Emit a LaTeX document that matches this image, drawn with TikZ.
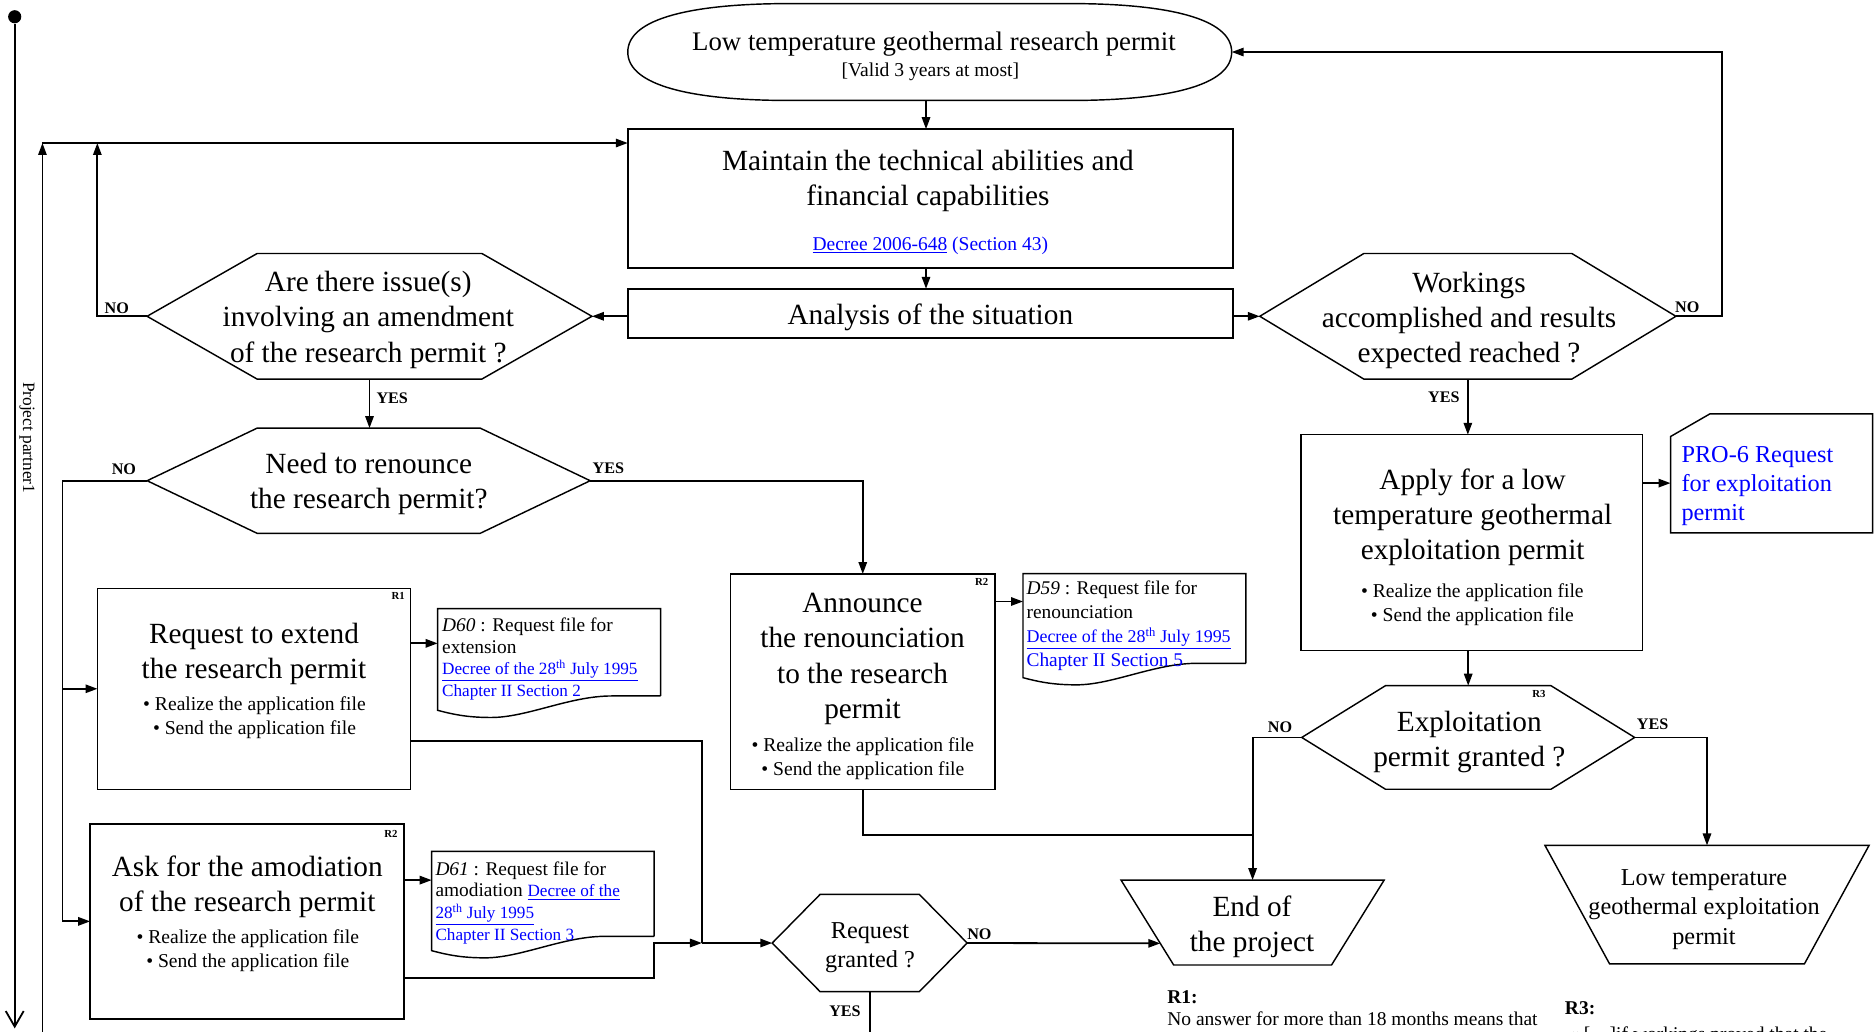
\documentclass[tikz,border=0pt]{standalone}
\usepackage{fontspec}
\setmainfont{Liberation Serif}
\usetikzlibrary{arrows.meta,calc}
\definecolor{linkblue}{RGB}{0,0,255}

% outline helpers, drawn from the anchors of an invisible rectangle node
\newcommand\drawhex[2]{%
  \draw[outline] (#1.west) -- ([xshift=#2pt]#1.north west) -- ([xshift=-#2pt]#1.north east)
    -- (#1.east) -- ([xshift=-#2pt]#1.south east) -- ([xshift=#2pt]#1.south west) -- cycle;}
\newcommand\drawtrap[2]{%
  \draw[outline] (#1.north west) -- (#1.north east) -- ([xshift=-#2pt]#1.south east)
    -- ([xshift=#2pt]#1.south west) -- cycle;}
\newcommand\drawdoc[1]{%
  \draw[outline] (#1.south east) -- (#1.north east) -- (#1.north west) -- ([yshift=-12pt]#1.south west)
    .. controls +(15,4) and +(-18,0) .. ($(#1.south west)!0.24!(#1.south east)+(0,18)$)
    .. controls +(30,0) and +(-35,0) .. ($(#1.south west)!0.78!(#1.south east)$) -- (#1.south east);}
% reference links inside the document shapes
\newcommand\reflink[1]{\fontsize{14.35}{18.2}\selectfont\color{linkblue}#1}

\tikzset{
  conn/.style={line width=1.5pt},
  arr/.style={conn,-{Triangle[length=10pt,width=7pt]}},
  outline/.style={line width=1.2pt},
  area/.style 2 args={minimum width=#1pt,minimum height=#2pt,inner sep=0pt,outer sep=0pt},
  boxed/.style 2 args={area={#1}{#2},draw,outline},
  big/.style={font=\fontsize{24.5}{29.5}\selectfont,align=center,inner sep=0pt},
  mid/.style={font=\fontsize{20.3}{24.5}\selectfont,align=center,inner sep=0pt},
  small/.style={font=\fontsize{16.4}{20}\selectfont,align=center,inner sep=0pt},
  doctext/.style={font=\fontsize{16.2}{18.2}\selectfont,align=left,anchor=west,inner sep=0pt},
  yn/.style={font=\bfseries\fontsize{13.5}{14}\selectfont,inner sep=0pt},
  rtag/.style={font=\bfseries\fontsize{9}{10}\selectfont,inner sep=0pt},
  note/.style={font=\fontsize{16.3}{18}\selectfont,anchor=base west,inner sep=0pt},
}

\begin{document}
\begin{tikzpicture}[x=1pt,y=-1pt]
\useasboundingbox (0,0) rectangle (1568,863);
\clip (0,0) rectangle (1568,863);

% ---- swimlane of the project partner
\node[circle,fill,inner sep=0pt,minimum size=11pt] (start) at (12.3,14) {};
\coordinate (laneEnd) at (12.3,860);
\draw[conn,-{Straight Barb[length=13pt,width=15pt]}] (start) -- (laneEnd);
\node[rotate=-90,font=\fontsize{14.5}{16}\selectfont,inner sep=0pt] (lane) at (22.5,366) {Project partner1};

% ---- research permit (start)
\node[area={505}{81}] (permit) at (777.5,43.5) {};
\draw[outline] (permit.west)
  .. controls ([yshift=28.5pt]permit.west) and ([xshift=55pt]permit.north west) .. ([xshift=135pt]permit.north west)
  -- ([xshift=-135pt]permit.north east)
  .. controls ([xshift=-55pt]permit.north east) and ([yshift=28.5pt]permit.east) .. (permit.east)
  .. controls ([yshift=-28.5pt]permit.east) and ([xshift=-55pt]permit.south east) .. ([xshift=-135pt]permit.south east)
  -- ([xshift=135pt]permit.south west)
  .. controls ([xshift=55pt]permit.south west) and ([yshift=-28.5pt]permit.west) .. (permit.west) -- cycle;
\node[font=\fontsize{22.4}{26}\selectfont,inner sep=0pt] (permitT) at (781,37) {Low temperature geothermal research permit};
\node[font=\fontsize{16.4}{19}\selectfont,inner sep=0pt] (permitS) at (778,60) {[Valid 3 years at most]};

% ---- maintain / analysis
\node[boxed={506}{116}] (maint) at (778,166) {};
\node[big] (maintT) at (776,151.5) {Maintain the technical abilities and\\financial capabilities};
\node[font=\fontsize{16.3}{19}\selectfont,text=linkblue,inner sep=0pt] (maintL) at (778,205.5) {\underline{Decree 2006-648} (Section 43)};
\node[boxed={506}{41}] (analysis) at (778,262) {};
\node[big] (analysisT) at (778,265) {Analysis of the situation};

% ---- decisions
\node[area={372}{105}] (q1) at (309,264.5) {}; \drawhex{q1}{92}
\node[big] (q1T) at (308,267.5) {Are there issue(s)\\involving an amendment\\of the research permit ?};

\node[area={348}{105}] (q2) at (1227.5,264.5) {}; \drawhex{q2}{87}
\node[big] (q2T) at (1228.5,268) {Workings\\accomplished and results\\expected reached ?};

\node[area={370.5}{88}] (q3) at (308.3,402) {}; \drawhex{q3}{92}
\node[big] (q3T) at (308.4,405) {Need to renounce\\the research permit?};

\node[area={163}{81.3}] (q4) at (727.3,788.6) {}; \drawhex{q4}{40}
\node[mid] (q4T) at (727.5,792.5) {Request\\granted ?};

\node[area={278.4}{86.6}] (q5) at (1227.8,616.7) {}; \drawhex{q5}{70}
\node[big] (q5T) at (1228.7,620.5) {Exploitation\\permit granted ?};
\node[rtag] (q5R) at (1287,580) {R3};

% ---- actions
\node[boxed={262}{168}] (req) at (212.5,576) {};
\node[big] (reqT) at (212.4,547) {Request to extend\\the research permit};
\node[small] (reqB) at (212.8,600.5) {\textbullet\ Realize the application file\\\textbullet\ Send the application file};
\node[rtag] (reqR) at (333,498) {R1};

\node[boxed={262.4}{163}] (ask) at (206.6,770.5) {};
\node[big] (askT) at (206.8,741.5) {Ask for the amodiation\\of the research permit};
\node[small] (askB) at (207.2,795) {\textbullet\ Realize the application file\\\textbullet\ Send the application file};
\node[rtag] (askR) at (327,697) {R2};

\node[boxed={221}{180}] (ann) at (721.5,570) {};
\node[big] (annT) at (721.3,551) {Announce\\the renounciation\\to the research\\permit};
\node[small] (annB) at (721.6,634.5) {\textbullet\ Realize the application file\\\textbullet\ Send the application file};
\node[rtag] (annR) at (821,487) {R2};

\node[boxed={285.6}{180.5}] (apply) at (1230.8,453.8) {};
\node[big] (applyT) at (1231.5,432.5) {Apply for a low\\temperature geothermal\\exploitation permit};
\node[small] (applyB) at (1231.3,505.5) {\textbullet\ Realize the application file\\\textbullet\ Send the application file};

% ---- procedure card
\node[area={169}{99.5}] (pro) at (1481.5,395.8) {};
\draw[outline] ([yshift=-19pt]pro.north west) -- ([xshift=33pt]pro.north west) -- (pro.north east)
  -- (pro.south east) -- (pro.south west) -- cycle;
\node[mid,align=left,anchor=west,text=linkblue] (proT) at (1406,406.5) {PRO-6 Request\\for exploitation\\permit};

% ---- documents
\node[area={186.5}{73}] (d60) at (459.25,545.5) {}; \drawdoc{d60}
\node[doctext] (d60T) at (369.6,551) {\textit{D60} : Request file for\\extension\\{\reflink{\underline{Decree of the 28\textsuperscript{th} July 1995}}}\\{\reflink{Chapter II Section 2}}};

\node[area={186.3}{75}] (d59) at (948.65,517.2) {}; \drawdoc{d59}
\node[doctext,font=\fontsize{16.2}{20}\selectfont] (d59T) at (858.3,523.5) {\textit{D59} : Request file for\\renounciation\\{\fontsize{15}{20}\selectfont\color{linkblue}\underline{Decree of the 28\textsuperscript{th} July 1995}}\\{\color{linkblue}Chapter II Section 5}};

\node[area={186}{71}] (d61) at (454,747.5) {}; \drawdoc{d61}
\node[doctext] (d61T) at (364,755) {\textit{D61} : Request file for\\amodiation {\reflink{\underline{Decree of the}}}\\{\reflink{\underline{28\textsuperscript{th} July 1995}}}\\{\reflink{Chapter II Section 3}}};

% ---- outcomes
\node[area={220}{71}] (finish) at (1047.5,771.5) {}; \drawtrap{finish}{44}
\node[big] (finishT) at (1047,775) {End of\\the project};
\node[area={271}{99}] (lowp) at (1427.5,756.5) {}; \drawtrap{lowp}{54}
\node[mid] (lowpT) at (1425,760.5) {Low temperature\\geothermal exploitation\\permit};

% ---- notes
\node[note,font=\bfseries\fontsize{16.3}{18}\selectfont] (n1h) at (976,839.5) {R1:};
\node[note] (n1) at (976,857.5) {No answer for more than 18 months means that};
\node[note,font=\bfseries\fontsize{16.3}{18}\selectfont] (n3h) at (1308.5,848) {R3:};
\node[note] (n3) at (1312,870) {« […]if workings proved that the};

% ---- connectors
\coordinate (midcol) at (774.4,0);
\draw[arr] (permit.south -| midcol) -- (maint.north -| midcol);
\draw[arr] (maint.south -| midcol) -- (analysis.north -| midcol);
\draw[arr] (analysis.west |- q1.east) -- (q1.east);
\draw[arr] (analysis.east |- q2.west) -- (q2.west);

\coordinate (loopTop) at (35.5,119.6);
\coordinate (loopFoot) at (35.5,875);
\draw[arr] (loopFoot) -- (loopTop);
\draw[arr] (loopTop) -- (maint.west |- loopTop);
\coordinate (noUp) at (81.4,119.6);
\draw[arr] (q1.west) -| (noUp);
\draw[arr] (q1.south) -- (q1.south |- q3.north);

\coordinate (backRight) at (1440,264.5);
\draw[arr] (q2.east) -- (backRight) |- (permit.east);
\draw[arr] (q2.south) -- (q2.south |- apply.north);

\coordinate (spine) at (52.3,0);
\draw[arr] (q3.west) -| (spine |- ask.west) -- (ask.west);
\draw[arr] (spine |- req.west) -- (req.west);
\draw[arr] (q3.east) -| (ann.north);

\draw[arr] (req.east |- 0,538) -- (d60.west |- 0,538);
\coordinate (merge) at (587,788.6);
\draw[conn] (req.east |- 0,619.5) -| (merge);
\draw[arr] (ask.east |- 0,736) -- (d61.west |- 0,736);
\coordinate (askTurn) at (547,788.6);
\draw[arr] (ask.east |- 0,817.6) -| (askTurn) -- (merge);
\draw[arr] (merge) -- (q4.west);
\draw[arr] (q4.east) -- ($(finish.north west)!0.745!([xshift=44pt]finish.south west)$);
\draw[conn] (q4.south) -- (q4.south |- 0,875);

\draw[arr] (ann.east |- 0,503) -- (d59.west |- 0,503);
\coordinate (join) at (finish.north |- 0,698);
\draw[conn] (ann.south) |- (join);
\draw[arr] (q5.west) -| (finish.north);

\draw[arr] (apply.east |- 0,404) -- (pro.west |- 0,404);
\draw[arr] (q5.north |- apply.south) -- (q5.north);
\draw[arr] (q5.east) -| (lowp.north);

% ---- branch labels
\node[yn] (l1) at (97.7,258) {NO};
\node[yn] (l2) at (328,333) {YES};
\node[yn] (l3) at (1411,257) {NO};
\node[yn] (l4) at (1207.4,332) {YES};
\node[yn] (l5) at (103.6,392) {NO};
\node[yn] (l6) at (508.8,391.5) {YES};
\node[yn] (l7) at (819,781.5) {NO};
\node[yn] (l8) at (706.6,845.5) {YES};
\node[yn] (l9) at (1070.4,608) {NO};
\node[yn] (l10) at (1382,606) {YES};
\end{tikzpicture}
\end{document}
